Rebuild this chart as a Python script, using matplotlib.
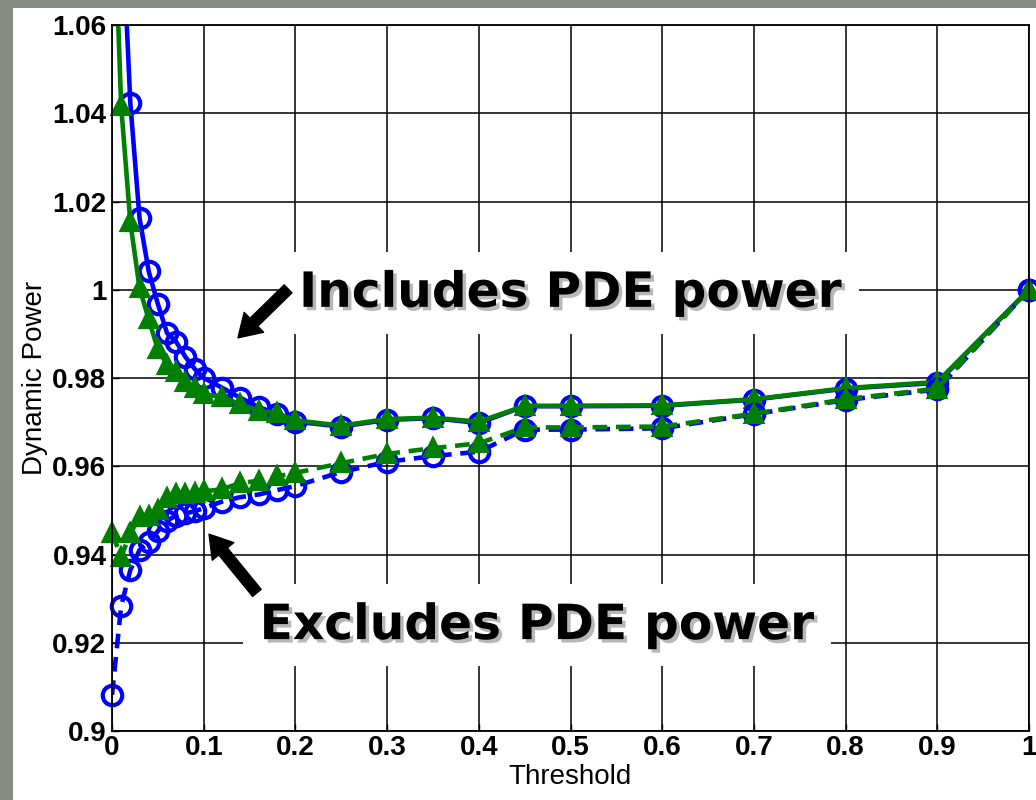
import numpy as np
import matplotlib
matplotlib.use('Agg')
import matplotlib.pyplot as plt
import matplotlib.patheffects as pe
from matplotlib.patches import Rectangle

# threshold values (x)
threshold = [0, 0.01, 0.02, 0.03, 0.04, 0.05, 0.06, 0.07, 0.08, 0.09, 0.1,
             0.12, 0.14, 0.16, 0.18, 0.2, 0.25, 0.3, 0.35, 0.4, 0.45, 0.5,
             0.6, 0.7, 0.8, 0.9, 1.0]

# includes PDE power (solid)
inc_blue = [1.14, 1.088, 1.0423, 1.0163, 1.0042, 0.9968, 0.9902, 0.9882, 0.9848, 0.9821, 0.9800,
            0.9778, 0.9755, 0.9734, 0.9719, 0.9701, 0.9690, 0.9705, 0.9709, 0.9698, 0.9736, 0.9736,
            0.9737, 0.9751, 0.9776, 0.9789, 1.0]
inc_green = [1.10, 1.0416, 1.0153, 1.0004, 0.9933, 0.9865, 0.9830, 0.9814, 0.9790, 0.9778, 0.9763,
             0.9757, 0.9740, 0.9726, 0.9720, 0.9704, 0.9692, 0.9707, 0.9710, 0.9701, 0.9737, 0.9737,
             0.9738, 0.9752, 0.9777, 0.9791, 1.0]

# excludes PDE power (dashed)
exc_blue = [0.9082, 0.9283, 0.9365, 0.9410, 0.9428, 0.9453, 0.9477, 0.9488, 0.9493, 0.9498, 0.9505,
            0.9520, 0.9530, 0.9536, 0.9546, 0.9555, 0.9587, 0.9610, 0.9623, 0.9633, 0.9683, 0.9683,
            0.9686, 0.9718, 0.9750, 0.9774, 1.0]
exc_green = [0.9448, 0.9395, 0.9448, 0.9484, 0.9488, 0.9500, 0.9528, 0.9536, 0.9537, 0.9540, 0.9543,
             0.9548, 0.9562, 0.9567, 0.9577, 0.9585, 0.9607, 0.9628, 0.9641, 0.9652, 0.9688, 0.9688,
             0.9690, 0.9719, 0.9752, 0.9776, 1.0]

xticks = [0, 0.1, 0.2, 0.3, 0.4, 0.5, 0.6, 0.7, 0.8, 0.9, 1.0]
xticklabels = ['0', '0.1', '0.2', '0.3', '0.4', '0.5', '0.6', '0.7', '0.8', '0.9', '1']
yticks = [0.9, 0.92, 0.94, 0.96, 0.98, 1.0, 1.02, 1.04, 1.06]
yticklabels = ['0.9', '0.92', '0.94', '0.96', '0.98', '1', '1.02', '1.04', '1.06']

BLUE = '#0000ff'
GREEN = '#008000'
tickfont = ['Liberation Sans', 'DejaVu Sans']

fig = plt.figure(figsize=(10.36, 8), dpi=100)
fig.patch.set_facecolor('#878c82')
fig.patches.append(Rectangle((13 / 1036, 0), 1, 1 - 8 / 800, transform=fig.transFigure,
                             facecolor='white', edgecolor='none', zorder=-5))

ax = fig.add_axes([112 / 1036, 1 - 731 / 800, (1029 - 112) / 1036, (731 - 25) / 800])
ax.set_zorder(2)
ax.set_facecolor('white')
ax.set_xlim(0, 1)
ax.set_ylim(0.9, 1.06)
ax.grid(True, color='black', linewidth=1.1, linestyle='-')
ax.set_axisbelow(True)
for s in ax.spines.values():
    s.set_linewidth(1.3)
    s.set_color('black')

x = np.array(threshold)


def serie(y, color, marker, ls, ms, filled):
    y = np.array(y)
    kw = dict(color=color, linewidth=3.3, solid_capstyle='butt')
    if ls == '--':
        ax.plot(x, y, linestyle=(0, (3.2, 1.9)), **kw)
    else:
        ax.plot(x, y, linestyle='-', **kw)
    m = (y >= 0.9) & (y <= 1.06)
    ax.plot(x[m], y[m], linestyle='none', marker=marker, markersize=ms,
            markerfacecolor=color if filled else 'none', markeredgecolor=color,
            markeredgewidth=3.0, clip_on=False)


serie(inc_blue, BLUE, 'o', '-', 14, False)
serie(inc_green, GREEN, '^', '-', 12, True)
serie(exc_blue, BLUE, 'o', '--', 14, False)
serie(exc_green, GREEN, '^', '--', 12, True)

ax.set_xticks(xticks)
ax.set_xticklabels(xticklabels)
ax.set_yticks(yticks)
ax.set_yticklabels(yticklabels)
ax.tick_params(direction='in', length=5, width=1)
ax.tick_params(axis='x', pad=3)
ax.tick_params(axis='y', pad=4)
for lab in ax.get_xticklabels() + ax.get_yticklabels():
    lab.set_fontfamily(tickfont)
    lab.set_fontsize(20)
    lab.set_fontweight('bold')

fig.text(35 / 1036, 1 - 378 / 800, 'Dynamic Power', rotation=90, ha='center', va='center',
         fontsize=20, family=tickfont)
fig.text(570 / 1036, 1 - 777 / 800, 'Threshold', ha='center', va='center',
         fontsize=20, family=tickfont)

shadow = [pe.withSimplePatchShadow(offset=(2.5, -2.5), shadow_rgbFace='#888888', alpha=0.6)]
box = dict(facecolor='white', edgecolor='none', boxstyle='square,pad=0.35')
ax.text(0.50, 0.9993, 'Includes PDE power', ha='center', va='center', fontsize=35,
        fontweight='bold', family='DejaVu Sans', bbox=box, path_effects=shadow, zorder=3)
ax.text(0.4635, 0.924, 'Excludes PDE power', ha='center', va='center', fontsize=35,
        fontweight='bold', family='DejaVu Sans', bbox=box, path_effects=shadow, zorder=3)

arrow = dict(arrowstyle='simple,head_width=2.0,head_length=1.6,tail_width=0.8',
             facecolor='black', edgecolor='black', shrinkA=0, shrinkB=0)
ax.annotate('', xy=(0.1374, 0.9891), xytext=(0.192, 1.0002), arrowprops=arrow, zorder=4)
ax.annotate('', xy=(0.1058, 0.9446), xytext=(0.158, 0.9313), arrowprops=arrow, zorder=4)

fig.savefig('out.png', dpi=100, facecolor=fig.get_facecolor())
